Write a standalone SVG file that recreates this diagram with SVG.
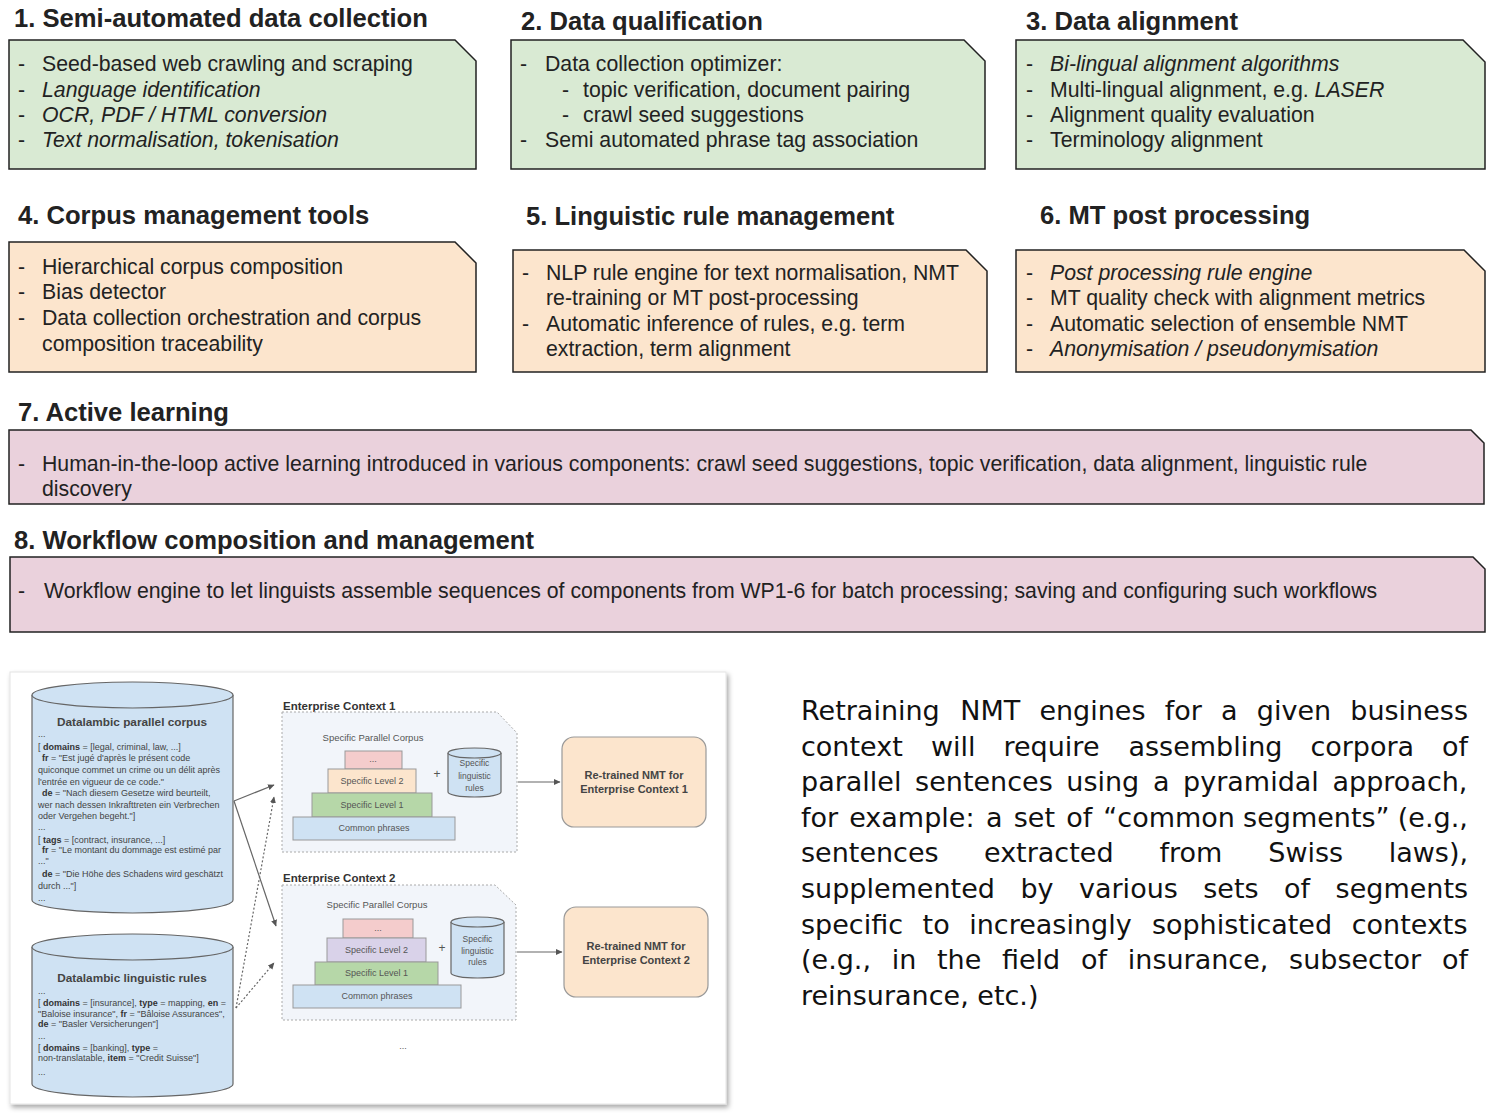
<svg xmlns="http://www.w3.org/2000/svg" width="1496" height="1116" viewBox="0 0 1496 1116">
<style>
.t{font-family:"Liberation Sans",Arial,sans-serif;font-size:21.25px;fill:#222}
.h{font-family:"Liberation Sans",Arial,sans-serif;font-size:25.6px;font-weight:bold;fill:#222}
.i{font-style:italic}
.box{stroke:#222;stroke-width:1.5}
.gr{fill:#d9ead3}.or{fill:#fce5cd}.pk{fill:#ead1dc}
.p{font-family:"DejaVu Sans",sans-serif;font-size:27px;fill:#111}
.s{font-family:"Liberation Sans",Arial,sans-serif;font-size:9px;fill:#444}
.b{font-weight:bold;fill:#333}
.ct{font-family:"Liberation Sans",Arial,sans-serif;font-size:11px;font-weight:bold;fill:#444;text-anchor:middle}
.pl{font-family:"Liberation Sans",Arial,sans-serif;font-size:9px;fill:#555;text-anchor:middle}
.lb{font-family:"Liberation Sans",Arial,sans-serif;font-size:11.5px;font-weight:bold;fill:#333}
.cyl{fill:#cfe2f3;stroke:#666;stroke-width:1.2}
.lay{stroke:#999;stroke-width:1}
.ctx{fill:#f2f5fa;stroke:#aaa;stroke-width:1;stroke-dasharray:2 2}
.nmt{fill:#fce5cd;stroke:#999;stroke-width:1.2}
.con{stroke:#666;stroke-width:1.2;fill:none}
.dot{stroke-dasharray:2 2}
</style>
<defs>
<marker id="ah" markerWidth="7" markerHeight="7" refX="6" refY="3.5" orient="auto" markerUnits="userSpaceOnUse">
<path d="M0,0.5 L6.5,3.5 L0,6.5 Z" fill="#555"/>
</marker>
<filter id="sh" x="-5%" y="-5%" width="110%" height="110%">
<feDropShadow dx="2" dy="3" stdDeviation="2.5" flood-color="#000" flood-opacity="0.35"/>
</filter>
</defs>
<rect width="1496" height="1116" fill="#fff"/>

<g id="wp1">
<text class="h" x="14" y="27">1. Semi-automated data collection</text>
<polygon class="box gr" points="9,40 455,40 476,61 476,169 9,169"/>
<text class="t" x="18" y="71">-</text><text class="t" x="42" y="71">Seed-based web crawling and scraping</text>
<text class="t" x="18" y="97">-</text><text class="t i" x="42" y="97">Language identification</text>
<text class="t" x="18" y="122">-</text><text class="t i" x="42" y="122">OCR, PDF / HTML conversion</text>
<text class="t" x="18" y="147">-</text><text class="t i" x="42" y="147">Text normalisation, tokenisation</text>
</g>

<g id="wp2">
<text class="h" x="521" y="30">2. Data qualification</text>
<polygon class="box gr" points="511,40 964,40 985,61 985,169 511,169"/>
<text class="t" x="520" y="71">-</text><text class="t" x="545" y="71">Data collection optimizer:</text>
<text class="t" x="562" y="97">-</text><text class="t" x="583" y="97">topic verification, document pairing</text>
<text class="t" x="562" y="122">-</text><text class="t" x="583" y="122">crawl seed suggestions</text>
<text class="t" x="520" y="147">-</text><text class="t" x="545" y="147">Semi automated phrase tag association</text>
</g>

<g id="wp3">
<text class="h" x="1026" y="30">3. Data alignment</text>
<polygon class="box gr" points="1016,40 1463,40 1485,62 1485,169 1016,169"/>
<text class="t" x="1026" y="71">-</text><text class="t i" x="1050" y="71">Bi-lingual alignment algorithms</text>
<text class="t" x="1026" y="97">-</text><text class="t" x="1050" y="97">Multi-lingual alignment, e.g. <tspan class="i">LASER</tspan></text>
<text class="t" x="1026" y="122">-</text><text class="t" x="1050" y="122">Alignment quality evaluation</text>
<text class="t" x="1026" y="147">-</text><text class="t" x="1050" y="147">Terminology alignment</text>
</g>

<g id="wp4">
<text class="h" x="18" y="224">4. Corpus management tools</text>
<polygon class="box or" points="9,242 455,242 476,263 476,372 9,372"/>
<text class="t" x="18" y="274">-</text><text class="t" x="42" y="274">Hierarchical corpus composition</text>
<text class="t" x="18" y="299">-</text><text class="t" x="42" y="299">Bias detector</text>
<text class="t" x="18" y="325">-</text><text class="t" x="42" y="325">Data collection orchestration and corpus</text>
<text class="t" x="42" y="351">composition traceability</text>
</g>

<g id="wp5">
<text class="h" x="526" y="225">5. Linguistic rule management</text>
<polygon class="box or" points="513,250 966,250 987,271 987,372 513,372"/>
<text class="t" x="522" y="280">-</text><text class="t" x="546" y="280">NLP rule engine for text normalisation, NMT</text>
<text class="t" x="546" y="305">re-training or MT post-processing</text>
<text class="t" x="522" y="331">-</text><text class="t" x="546" y="331">Automatic inference of rules, e.g. term</text>
<text class="t" x="546" y="356">extraction, term alignment</text>
</g>

<g id="wp6">
<text class="h" x="1040" y="224">6. MT post processing</text>
<polygon class="box or" points="1016,250 1464,250 1485,271 1485,372 1016,372"/>
<text class="t" x="1026" y="280">-</text><text class="t i" x="1050" y="280">Post processing rule engine</text>
<text class="t" x="1026" y="305">-</text><text class="t" x="1050" y="305">MT quality check with alignment metrics</text>
<text class="t" x="1026" y="331">-</text><text class="t" x="1050" y="331">Automatic selection of ensemble NMT</text>
<text class="t" x="1026" y="356">-</text><text class="t i" x="1050" y="356">Anonymisation / pseudonymisation</text>
</g>

<g id="wp7">
<text class="h" x="18" y="421">7. Active learning</text>
<polygon class="box pk" points="9,430 1471,430 1484,443 1484,504 9,504"/>
<text class="t" x="18" y="471">-</text><text class="t" x="42" y="471">Human-in-the-loop active learning introduced in various components: crawl seed suggestions, topic verification, data alignment, linguistic rule</text>
<text class="t" x="42" y="496">discovery</text>
</g>

<g id="wp8">
<text class="h" x="14" y="549">8. Workflow composition and management</text>
<polygon class="box pk" points="10,557 1473,557 1485,569 1485,632 10,632"/>
<text class="t" x="18" y="598">-</text><text class="t" x="44" y="598">Workflow engine to let linguists assemble sequences of components from WP1-6 for batch processing; saving and configuring such workflows</text>
</g>

<g id="figure">
<rect x="10" y="672" width="716" height="432" fill="#fff" stroke="#e4e4e4" filter="url(#sh)"/>
</g>

<g id="parallel-corpus">
<path class="cyl" d="M32,695 L32,900 A100.5,13 0 0 0 233,900 L233,695"/>
<ellipse class="cyl" cx="132.5" cy="695" rx="100.5" ry="13"/>
<text class="ct" x="132" y="726" style="font-size:11.8px">Datalambic parallel corpus</text>
<text class="s" x="38" y="737">...</text>
<text class="s" x="38" y="750">[ <tspan class="b">domains</tspan> = [legal, criminal, law, ...]</text>
<text class="s" x="42" y="761"><tspan class="b">fr</tspan> = "Est jugé d'après le présent code</text>
<text class="s" x="38" y="773">quiconque commet un crime ou un délit après</text>
<text class="s" x="38" y="785">l'entrée en vigueur de ce code."</text>
<text class="s" x="42" y="796"><tspan class="b">de</tspan> = "Nach diesem Gesetze wird beurteilt,</text>
<text class="s" x="38" y="808">wer nach dessen Inkrafttreten ein Verbrechen</text>
<text class="s" x="38" y="819">oder Vergehen begeht."]</text>
<text class="s" x="38" y="830">...</text>
<text class="s" x="38" y="843">[ <tspan class="b">tags</tspan> = [contract, insurance, ...]</text>
<text class="s" x="42" y="853"><tspan class="b">fr</tspan> = "Le montant du dommage est estimé par</text>
<text class="s" x="38" y="864">..."</text>
<text class="s" x="42" y="877"><tspan class="b">de</tspan> = "Die Höhe des Schadens wird geschätzt</text>
<text class="s" x="38" y="889">durch ..."]</text>
<text class="s" x="38" y="901">...</text>
</g>

<g id="linguistic-rules">
<path class="cyl" d="M32,947 L32,1084 A100.5,13 0 0 0 233,1084 L233,947"/>
<ellipse class="cyl" cx="132.5" cy="947" rx="100.5" ry="13"/>
<text class="ct" x="132" y="982" style="font-size:11.8px">Datalambic linguistic rules</text>
<text class="s" x="38" y="994">...</text>
<text class="s" x="38" y="1006">[ <tspan class="b">domains</tspan> = [insurance], <tspan class="b">type</tspan> = mapping, <tspan class="b">en</tspan> =</text>
<text class="s" x="38" y="1017">"Baloise insurance", <tspan class="b">fr</tspan> = "Bâloise Assurances",</text>
<text class="s" x="38" y="1027"><tspan class="b">de</tspan> = "Basler Versicherungen"]</text>
<text class="s" x="38" y="1039">...</text>
<text class="s" x="38" y="1051">[ <tspan class="b">domains</tspan> = [banking], <tspan class="b">type</tspan> =</text>
<text class="s" x="38" y="1061">non-translatable, <tspan class="b">item</tspan> = "Credit Suisse"]</text>
<text class="s" x="38" y="1075">...</text>
</g>

<g id="context-1">
<text class="lb" x="283" y="710">Enterprise Context 1</text>
<path class="ctx" d="M282,712 L497,712 L517,733 L517,852 L282,852 Z"/>
<text class="pl" x="373" y="741" style="font-size:9.5px">Specific Parallel Corpus</text>
<rect class="lay" x="345" y="751" width="57" height="18" fill="#f4cccc"/>
<text class="pl" x="373" y="762">...</text>
<rect class="lay" x="328" y="769" width="88" height="24" fill="#fce5cd"/>
<text class="pl" x="372" y="784">Specific Level 2</text>
<rect class="lay" x="312" y="793" width="120" height="24" fill="#b6d7a8"/>
<text class="pl" x="372" y="808">Specific Level 1</text>
<rect class="lay" x="293" y="817" width="162" height="23" fill="#cfe2f3"/>
<text class="pl" x="374" y="831">Common phrases</text>
<text class="pl" x="437" y="778" style="font-size:12px">+</text>
<path class="cyl" d="M448,753 L448,792 A26.5,5 0 0 0 501,792 L501,753" stroke-width="1"/>
<ellipse class="cyl" cx="474.5" cy="753" rx="26.5" ry="5" stroke-width="1"/>
<text class="pl" x="474.5" y="766" style="font-size:8.5px">Specific</text>
<text class="pl" x="474.5" y="779" style="font-size:8.5px">linguistic</text>
<text class="pl" x="474.5" y="791" style="font-size:8.5px">rules</text>
</g>

<g id="nmt-1">
<rect class="nmt" x="562" y="737" width="144" height="90" rx="12"/>
<text class="ct" x="634" y="779">Re-trained NMT for</text>
<text class="ct" x="634" y="793">Enterprise Context 1</text>
</g>

<g id="context-2">
<text class="lb" x="283" y="882">Enterprise Context 2</text>
<path class="ctx" d="M282,885 L495,885 L516,905 L516,1020 L282,1020 Z"/>
<text class="pl" x="377" y="908" style="font-size:9.5px">Specific Parallel Corpus</text>
<rect class="lay" x="343" y="919" width="70" height="19" fill="#f4cccc"/>
<text class="pl" x="378" y="931">...</text>
<rect class="lay" x="327" y="938" width="99" height="24" fill="#d9d2e9"/>
<text class="pl" x="376.5" y="953">Specific Level 2</text>
<rect class="lay" x="315" y="962" width="123" height="23" fill="#b6d7a8"/>
<text class="pl" x="376.5" y="976">Specific Level 1</text>
<rect class="lay" x="293" y="985" width="168" height="23" fill="#cfe2f3"/>
<text class="pl" x="377" y="999">Common phrases</text>
<text class="pl" x="442" y="952" style="font-size:12px">+</text>
<path class="cyl" d="M451,922 L451,973 A26.5,5 0 0 0 504,973 L504,922" stroke-width="1"/>
<ellipse class="cyl" cx="477.5" cy="922" rx="26.5" ry="5" stroke-width="1"/>
<text class="pl" x="477.5" y="942" style="font-size:8.5px">Specific</text>
<text class="pl" x="477.5" y="954" style="font-size:8.5px">linguistic</text>
<text class="pl" x="477.5" y="965" style="font-size:8.5px">rules</text>
</g>

<g id="nmt-2">
<rect class="nmt" x="564" y="907" width="144" height="90" rx="12"/>
<text class="ct" x="636" y="950">Re-trained NMT for</text>
<text class="ct" x="636" y="964">Enterprise Context 2</text>
</g>

<text class="pl" x="403" y="1049">...</text>

<g id="connectors">
<line class="con" x1="234" y1="801" x2="274" y2="785" marker-end="url(#ah)"/>
<line class="con" x1="234" y1="801" x2="276" y2="926" marker-end="url(#ah)"/>
<line class="con dot" x1="236" y1="1008" x2="274" y2="797" marker-end="url(#ah)"/>
<line class="con dot" x1="236" y1="1008" x2="274" y2="963" marker-end="url(#ah)"/>
<line class="con" x1="518" y1="782" x2="560" y2="782" marker-end="url(#ah)"/>
<line class="con" x1="517" y1="952" x2="562" y2="952" marker-end="url(#ah)"/>
</g>

<g id="paragraph">
<text class="p" y="720"><tspan x="801">Retraining</tspan><tspan x="960.2">NMT</tspan><tspan x="1039.4">engines</tspan><tspan x="1164.8">for</tspan><tspan x="1221">a</tspan><tspan x="1256.8">given</tspan><tspan x="1350.3">business</tspan></text>
<text class="p" y="756"><tspan x="801">context</tspan><tspan x="931">will</tspan><tspan x="1003.5">require</tspan><tspan x="1128.5">assembling</tspan><tspan x="1310.4">corpora</tspan><tspan x="1442">of</tspan></text>
<text class="p" y="791"><tspan x="801">parallel</tspan><tspan x="915.1">sentences</tspan><tspan x="1066.3">using</tspan><tspan x="1152.9">a</tspan><tspan x="1183.1">pyramidal</tspan><tspan x="1332.5">approach,</tspan></text>
<text class="p" y="827"><tspan x="801">for</tspan><tspan x="849.2">example:</tspan><tspan x="986.1">a</tspan><tspan x="1013.8">set</tspan><tspan x="1066.2">of</tspan><tspan x="1103.3">“common</tspan><tspan x="1243.1">segments”</tspan><tspan x="1397.8">(e.g.,</tspan></text>
<text class="p" y="862"><tspan x="801">sentences</tspan><tspan x="984">extracted</tspan><tspan x="1159.5">from</tspan><tspan x="1268.3">Swiss</tspan><tspan x="1388.7">laws),</tspan></text>
<text class="p" y="898"><tspan x="801">supplemented</tspan><tspan x="1020.4">by</tspan><tspan x="1079">various</tspan><tspan x="1203.3">sets</tspan><tspan x="1284.1">of</tspan><tspan x="1335.6">segments</tspan></text>
<text class="p" y="934"><tspan x="801">specific</tspan><tspan x="922.6">to</tspan><tspan x="969.2">increasingly</tspan><tspan x="1151.9">sophisticated</tspan><tspan x="1351.7">contexts</tspan></text>
<text class="p" y="969"><tspan x="801">(e.g.,</tspan><tspan x="891.7">in</tspan><tspan x="937">the</tspan><tspan x="1002">field</tspan><tspan x="1081">of</tspan><tspan x="1127.8">insurance,</tspan><tspan x="1289.1">subsector</tspan><tspan x="1441.9">of</tspan></text>
<text class="p" y="1005" x="801">reinsurance, etc.)</text>
</g>
</svg>
